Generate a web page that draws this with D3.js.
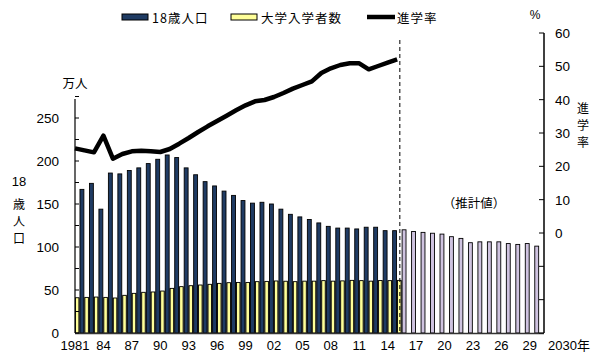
<!DOCTYPE html>
<html>
<head>
<meta charset="utf-8">
<script src="https://cdn.jsdelivr.net/npm/d3@7"></script>
<style>
  body { margin: 0; background: #fff; }
  text { font-family: "Liberation Sans", Arial, "Noto Sans CJK JP", sans-serif; fill: #000; }
  .jp { font-family: "Noto Sans CJK JP", sans-serif; }
</style>
</head>
<body>
<svg id="chart" width="600" height="360"></svg>
<script>
// 実績 1981-2015、推計 2016-2030
const years = d3.range(1981, 2031)
const popYears = d3.range(1981, 2016)
const population = [167, 167, 174, 144, 186, 185, 189, 192, 197, 202, 207, 204, 192, 184,
  176, 171, 165, 160, 154, 151, 152, 150, 144, 138, 135, 132, 128, 124, 122, 122, 121, 123, 123, 119, 119]
const projYears = d3.range(2016, 2031)
const projected = [120, 118, 117, 116, 115, 112, 110, 105, 106, 106, 106, 104, 103, 104, 101]
const entrants = [41.0, 41.4, 41.8, 41.4, 40.7, 43.8, 46.1, 47.3, 47.7, 48.8, 51.9, 53.9, 55.0, 55.8,
  56.6, 57.7, 58.5, 58.8, 58.8, 59.7, 60.0, 60.5, 60.2, 59.7, 60.3, 60.3, 60.9, 60.3, 60.6, 61.2, 60.9, 60.3, 61.1, 60.9, 61.2]
const rate = [25.4, 24.8, 24.2, 29.2, 22.3, 23.7, 24.5, 24.7, 24.5, 24.3, 25.2, 26.8, 28.5, 30.3,
  32.0, 33.6, 35.2, 36.8, 38.3, 39.5, 39.9, 40.8, 42.0, 43.3, 44.4, 45.5, 48.0, 49.4, 50.4, 50.9, 50.9, 49.1, 50.1, 51.1, 52.1]
const tickYears = d3.range(1981, 2030, 3)
const leftTicks = d3.range(0, 276, 25)
const rightTicks = d3.range(-30, 61, 10)

const svg = d3.select('#chart')
const navy = '#1f3b63'
const yellow = '#ffff99'
const lilac = '#cfc3e0'

const x = d3.scaleBand().domain(years).range([70.26, 544]).padding(0)
const step = x.bandwidth()
const cx = function (yr) { return x(yr) + step / 2 }
const yL = d3.scaleLinear().domain([0, 250]).range([333, 118])
const yR = d3.scaleLinear().domain([-30, 60]).range([333, 33])

svg.append('defs').append('clipPath').attr('id', 'plot')
  .append('rect').attr('x', 75).attr('y', 0).attr('width', 469).attr('height', 334)

const plot = svg.append('g').attr('clip-path', 'url(#plot)')

// 灰色の地（入学者数の高さまで）
plot.selectAll('.bg').data(popYears).enter().append('rect')
  .attr('x', function (d) { return x(d) })
  .attr('width', step + 0.3)
  .attr('y', function (d, i) { return yL(entrants[i]) })
  .attr('height', function (d, i) { return yL(0) - yL(entrants[i]) })
  .style('fill', '#808080')

plot.selectAll('.pop').data(popYears).enter().append('rect')
  .attr('x', function (d) { return cx(d) - 4.5 })
  .attr('width', 3.9)
  .attr('y', function (d, i) { return yL(population[i]) })
  .attr('height', function (d, i) { return yL(0) - yL(population[i]) })
  .style('fill', navy).style('stroke', '#000').style('stroke-width', 0.9)

plot.selectAll('.ent').data(popYears).enter().append('rect')
  .attr('x', function (d) { return cx(d) + 0.4 })
  .attr('width', 3.5)
  .attr('y', function (d, i) { return yL(entrants[i]) })
  .attr('height', function (d, i) { return yL(0) - yL(entrants[i]) })
  .style('fill', yellow).style('stroke', '#000').style('stroke-width', 0.9)

plot.selectAll('.proj').data(projYears).enter().append('rect')
  .attr('x', function (d) { return cx(d) - 4.5 })
  .attr('width', 3.9)
  .attr('y', function (d, i) { return yL(projected[i]) })
  .attr('height', function (d, i) { return yL(0) - yL(projected[i]) })
  .style('fill', lilac).style('stroke', '#000').style('stroke-width', 0.9)

// 進学率
const line = d3.line()
  .x(function (d, i) { return cx(popYears[i]) })
  .y(function (d) { return yR(d) })
svg.append('path').datum(rate).attr('d', line)
  .style('fill', 'none').style('stroke', '#000').style('stroke-width', 4.5)
  .style('stroke-linejoin', 'round')

// 実績と推計の境目
const sepX = cx(2015) + 2.7
svg.append('line').attr('x1', sepX).attr('x2', sepX).attr('y1', 40).attr('y2', 333)
  .style('stroke', '#000').style('stroke-width', 1).style('stroke-dasharray', '4,3')

// 軸
svg.append('line').attr('x1', 75).attr('x2', 544).attr('y1', 333.5).attr('y2', 333.5)
  .style('stroke', '#333').style('stroke-width', 1.5)

const left = svg.append('g')
left.append('line').attr('x1', 75).attr('x2', 75).attr('y1', 99).attr('y2', 333)
  .style('stroke', '#000').style('stroke-width', 1.2)
left.selectAll('.lt').data(leftTicks).enter().append('line')
  .attr('x1', 75).attr('x2', 79)
  .attr('y1', function (d) { return yL(d) }).attr('y2', function (d) { return yL(d) })
  .style('stroke', '#000')
left.selectAll('.ll').data(leftTicks.filter(function (d) { return d % 50 === 0 })).enter().append('text')
  .attr('x', 59).attr('y', function (d) { return yL(d) + 5 })
  .attr('text-anchor', 'end').style('font-size', '13.5px')
  .text(function (d) { return d })

const right = svg.append('g')
right.append('line').attr('x1', 544).attr('x2', 544).attr('y1', 33).attr('y2', 333)
  .style('stroke', '#000').style('stroke-width', 1.5)
right.selectAll('.rt').data(rightTicks).enter().append('line')
  .attr('x1', 539).attr('x2', 544)
  .attr('y1', function (d) { return yR(d) }).attr('y2', function (d) { return yR(d) })
  .style('stroke', '#000')
right.selectAll('.rl').data(rightTicks.filter(function (d) { return d >= 0 })).enter().append('text')
  .attr('x', 555).attr('y', function (d) { return yR(d) + 5 })
  .style('font-size', '13.5px')
  .text(function (d) { return d })

svg.selectAll('.xl').data(tickYears).enter().append('text')
  .attr('x', function (d) { return cx(d) }).attr('y', 350)
  .attr('text-anchor', 'middle').style('font-size', '13px')
  .text(function (d) { return d === 1981 ? '1981' : String(d).slice(2) })
svg.append('text').attr('x', 548).attr('y', 350).style('font-size', '13px')
  .html('2030<tspan class="jp">年</tspan>')

// 軸タイトル
svg.append('text').attr('class', 'jp').attr('x', 75).attr('y', 88)
  .attr('text-anchor', 'middle').style('font-size', '12.5px').text('万人')
svg.append('text').attr('x', 19).attr('y', 186)
  .attr('text-anchor', 'middle').style('font-size', '13px').text('18')
const leftTitle = ['歳', '人', '口']
leftTitle.forEach(function (c, i) {
  svg.append('text').attr('class', 'jp').attr('x', 19).attr('y', 209 + i * 17)
    .attr('text-anchor', 'middle').style('font-size', '12px').text(c)
})
svg.append('text').attr('x', 535).attr('y', 19)
  .attr('text-anchor', 'middle').style('font-size', '12px').text('%')
const rightTitle = ['進', '学', '率']
rightTitle.forEach(function (c, i) {
  svg.append('text').attr('class', 'jp').attr('x', 583).attr('y', 113 + i * 17)
    .attr('text-anchor', 'middle').style('font-size', '12px').text(c)
})
svg.append('text').attr('class', 'jp').attr('x', 474).attr('y', 208)
  .attr('text-anchor', 'middle').style('font-size', '12.5px').text('（推計値）')

// 凡例
const legend = svg.append('g').attr('class', 'legend')
legend.append('rect').attr('x', 122).attr('y', 14).attr('width', 26).attr('height', 6)
  .style('fill', navy).style('stroke', '#000')
legend.append('text').attr('class', 'jp').attr('x', 152).attr('y', 22.5)
  .style('font-size', '12.5px').style('letter-spacing', '1px').text('18歳人口')
legend.append('rect').attr('x', 231).attr('y', 14).attr('width', 26).attr('height', 6)
  .style('fill', yellow).style('stroke', '#000')
legend.append('text').attr('class', 'jp').attr('x', 261).attr('y', 22.5)
  .style('font-size', '12.5px').style('letter-spacing', '1px').text('大学入学者数')
legend.append('line').attr('x1', 367).attr('x2', 395).attr('y1', 17).attr('y2', 17)
  .style('stroke', '#000').style('stroke-width', 4.5)
legend.append('text').attr('class', 'jp').attr('x', 397).attr('y', 22.5)
  .style('font-size', '12.5px').style('letter-spacing', '1px').text('進学率')
</script>
</body>
</html>
